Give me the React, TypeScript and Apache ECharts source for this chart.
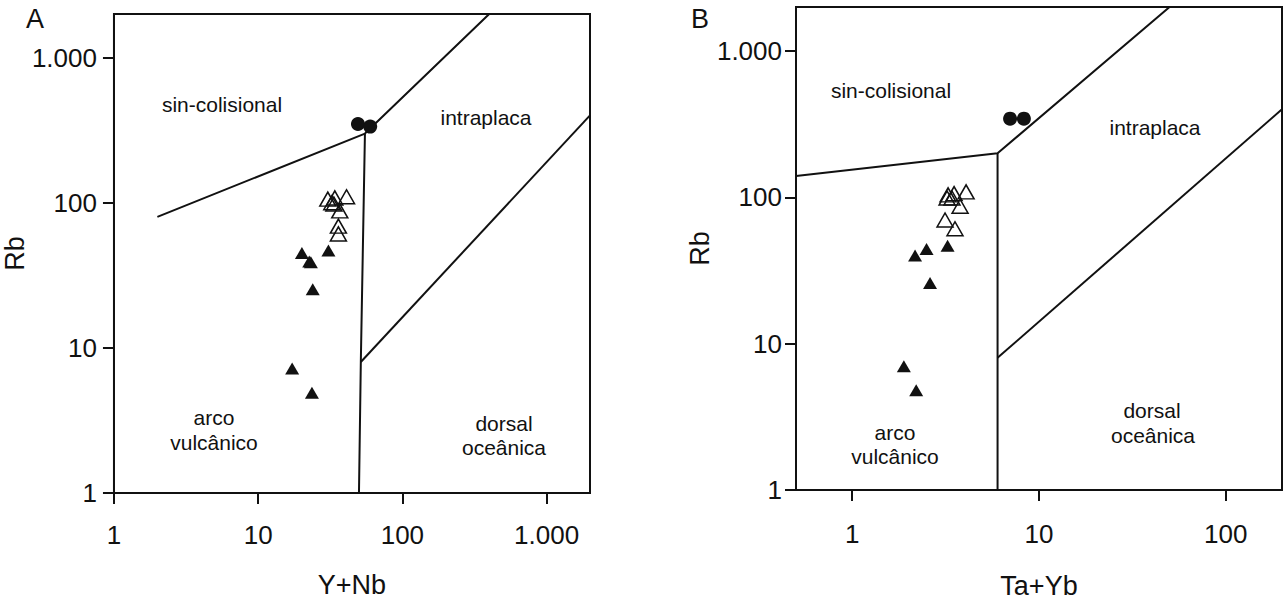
import React, { useEffect, useRef } from 'react';
import * as echarts from 'echarts';

// Tick values
const yTicks = [1, 10, 100, 1000];
const xTicksA = [1, 10, 100, 1000];
const xTicksB = [1, 10, 100];

// Panel A: Y+Nb vs Rb
const circlesA = [[49.2, 349], [59.8, 335]];
const openA = [[30.4, 106], [34, 108], [41, 110], [32.4, 100], [33.5, 98], [36.8, 88], [36, 69], [36, 61]];
const filledA = [[20.1, 45], [22.6, 39.4], [23.2, 39], [30.7, 46.9], [23.9, 25.4], [17.2, 7.2], [23.6, 4.9]];

// Panel B: Ta+Yb vs Rb
const circlesB = [[7.0, 345], [8.3, 345]];
const openB = [[3.26, 104], [3.51, 106], [4.07, 109], [3.22, 99], [3.42, 99], [3.78, 87], [3.14, 70], [3.55, 61]];
const filledB = [[2.5, 44.4], [2.17, 40], [3.24, 46.7], [2.61, 26], [1.89, 7], [2.2, 4.8]];

// Discrimination boundaries (Pearce et al. 1984)
const linesA = [
  [[2, 80], [55, 300], [400, 2000]],
  [[55, 300], [51.5, 8], [50, 1]],
  [[51.5, 8], [2000, 400]],
];
const linesB = [
  [[0.5, 140], [6, 200], [50, 2000]],
  [[6, 200], [6, 1]],
  [[6, 8], [200, 400]],
];

const FONT = "'Liberation Sans', Arial, sans-serif";
const INK = '#111';

const fmt = (v: number) => {
  const r = Math.round(v);
  return r === 1000 ? '1.000' : String(r);
};

function axis(gridIndex: number, min: number, max: number, ticks: number[], margin: number, name: string, nameGap: number) {
  return {
    type: 'log',
    logBase: 10,
    gridIndex,
    min,
    max,
    name,
    nameLocation: 'middle',
    nameGap,
    nameTextStyle: { fontSize: 27, color: INK, fontFamily: FONT },
    axisLine: { show: true, lineStyle: { color: INK, width: 2 } },
    axisTick: { show: true, length: 11, inside: false, customValues: ticks, lineStyle: { color: INK, width: 2 } },
    axisLabel: { show: true, customValues: ticks, margin, fontSize: 26, color: INK, fontFamily: FONT, formatter: fmt },
    splitLine: { show: false },
    minorTick: { show: false },
    minorSplitLine: { show: false },
  };
}

function lineSeries(lines: number[][][], idx: number) {
  return lines.map((d) => ({
    type: 'line',
    xAxisIndex: idx,
    yAxisIndex: idx,
    data: d,
    showSymbol: false,
    symbol: 'none',
    lineStyle: { color: INK, width: 2 },
    silent: true,
    z: 1,
  }));
}

function pointSeries(circles: number[][], open: number[][], filled: number[][], idx: number) {
  return [
    {
      type: 'scatter', xAxisIndex: idx, yAxisIndex: idx, data: circles,
      symbol: 'circle', symbolSize: 14, itemStyle: { color: INK, opacity: 1 }, z: 3,
    },
    {
      type: 'scatter', xAxisIndex: idx, yAxisIndex: idx, data: open,
      symbol: 'triangle', symbolSize: [16, 14],
      itemStyle: { color: 'rgba(255,255,255,0)', borderColor: INK, borderWidth: 1.5, opacity: 1 }, z: 3,
    },
    {
      type: 'scatter', xAxisIndex: idx, yAxisIndex: idx, data: filled,
      symbol: 'triangle', symbolSize: [14, 12], itemStyle: { color: INK, opacity: 1 }, z: 3,
    },
  ];
}

function label(text: string, x: number, y: number, size = 21) {
  return {
    type: 'text',
    x,
    y,
    silent: true,
    style: { text, fill: INK, fontSize: size, fontFamily: FONT, align: 'center', verticalAlign: 'middle' },
  };
}

export default function App() {
  const ref = useRef<HTMLDivElement>(null);
  useEffect(() => {
    if (!ref.current) return;
    const chart = echarts.init(ref.current, null, { renderer: 'svg' });
    chart.setOption({
      animation: false,
      backgroundColor: '#fff',
      grid: [
        { left: 111, top: 14, width: 479, height: 479, show: true, borderColor: INK, borderWidth: 2, backgroundColor: 'transparent' },
        { left: 796, top: 7, width: 486, height: 484, show: true, borderColor: INK, borderWidth: 2, backgroundColor: 'transparent' },
      ],
      xAxis: [
        axis(0, 1, 2000, xTicksA, 29, 'Y+Nb', 78),
        axis(1, 0.5, 200, xTicksB, 31, 'Ta+Yb', 82),
      ],
      yAxis: [
        axis(0, 1, 2000, yTicks, 17, 'Rb', 70),
        axis(1, 1, 2000, yTicks, 14, 'Rb', 77),
      ],
      series: [
        ...lineSeries(linesA, 0),
        ...lineSeries(linesB, 1),
        ...pointSeries(circlesA, openA, filledA, 0),
        ...pointSeries(circlesB, openB, filledB, 1),
      ],
      graphic: [
        label('A', 35, 19, 27),
        label('B', 700, 19, 27),
        label('sin-colisional', 222, 104),
        label('intraplaca', 486, 117),
        label('arco', 214, 417),
        label('vulcânico', 214, 442),
        label('dorsal', 504, 423),
        label('oceânica', 504, 447),
        label('sin-colisional', 891, 90),
        label('intraplaca', 1155, 127),
        label('arco', 895, 432),
        label('vulcânico', 895, 456),
        label('dorsal', 1152, 410),
        label('oceânica', 1153, 435),
      ],
    });
    return () => chart.dispose();
  }, []);
  return <div ref={ref} style={{ position: 'fixed', left: 0, top: 0, width: 1285, height: 604 }} />;
}
